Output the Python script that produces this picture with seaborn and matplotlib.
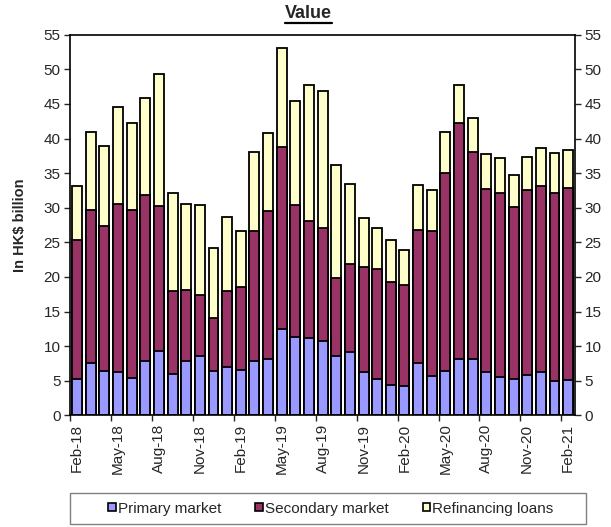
"""
Mortgage loans approved, value by market segment (stacked monthly bars).
"""
import matplotlib
matplotlib.use('Agg')
import matplotlib.pyplot as plt
from matplotlib.lines import Line2D
from matplotlib.patches import Patch, Rectangle
import numpy as np
import pandas as pd
import seaborn as sns

months = list(pd.date_range('2018-02-01', periods=37, freq='MS').strftime('%b-%y'))

primary = [5.2, 7.5, 6.4, 6.2, 5.4, 7.9, 9.3, 6.0, 7.9, 8.5, 6.4, 7.0, 6.6,
           7.8, 8.2, 12.4, 11.3, 11.2, 10.8, 8.6, 9.1, 6.3, 5.2, 4.4, 4.3,
           7.6, 5.7, 6.4, 8.2, 8.1, 6.3, 5.5, 5.2, 5.8, 6.2, 4.9, 5.1]
secondary = [20.1, 22.2, 21.0, 24.4, 24.3, 23.9, 21.0, 11.9, 10.2, 8.9, 7.7,
             11.0, 12.0, 18.9, 21.3, 26.4, 19.1, 16.9, 16.3, 11.3, 12.8, 15.1,
             15.9, 14.8, 14.5, 19.2, 20.9, 28.6, 34.1, 30.0, 26.4, 26.6, 24.9,
             26.7, 26.9, 27.2, 27.7]
refinancing = [7.9, 11.3, 11.5, 14.0, 12.6, 14.0, 19.0, 14.3, 12.5, 13.0, 10.1,
               10.6, 8.0, 11.4, 11.3, 14.3, 15.1, 19.6, 19.8, 16.3, 11.5, 7.1,
               6.0, 6.1, 5.1, 6.5, 5.9, 5.9, 5.4, 4.9, 5.1, 5.1, 4.6, 4.8, 5.5,
               5.8, 5.5]
series_names = ['Primary market', 'Secondary market', 'Refinancing loans']

BLUE   = '#9999FF'
MAROON = '#993366'
CREAM  = '#FFFFCC'

sns.set_style('white')
plt.rcParams['font.family'] = ['Liberation Sans', 'DejaVu Sans']

df = pd.DataFrame({'month': months, 'primary': primary,
                   'secondary': secondary, 'refinancing': refinancing})
df['sec_top'] = df['primary'] + df['secondary']
df['total'] = df['sec_top'] + df['refinancing']

W, H = 611, 527
fig = plt.figure(figsize=(W / 100, H / 100), dpi=100, facecolor='white')
ax = fig.add_axes([0.115, 0.212, 0.826, 0.722])

# overlapping bars drawn tallest first give the stacked look
for col, color in [('total', CREAM), ('sec_top', MAROON), ('primary', BLUE)]:
    sns.barplot(data=df, x='month', y=col, color=color, saturation=1,
                edgecolor='black', linewidth=1.3, width=0.73, ax=ax)

ax.set_ylim(0, 55)
ax.set_xlim(-0.5, len(months) - 0.5)
ax.set_yticks(np.arange(0, 56, 5))
ax.tick_params(axis='y', labelsize=11, length=4, width=1, direction='out',
               left=True, right=True, labelleft=True, labelright=True, pad=3)

ticks = np.arange(0, len(months), 3)
ax.set_xticks(ticks)
ax.set_xticklabels([months[i] for i in ticks], rotation=90, fontsize=11)
ax.tick_params(axis='x', which='major', length=0, pad=6)
ax.set_xticks(np.arange(-0.5, len(months), 3), minor=True)
ax.tick_params(axis='x', which='minor', length=4, width=1, direction='out',
               bottom=True)

ax.set_xlabel('')
ax.set_ylabel('In HK$ billion', fontsize=10.5, fontweight='bold', labelpad=12)
for spine in ax.spines.values():
    spine.set_visible(True)
    spine.set_edgecolor('black')
    spine.set_linewidth(1.2)

title = fig.text(0.505, 0.974, 'Value', ha='center', va='center',
                 fontsize=13, fontweight='bold')
fig.canvas.draw()
bb = title.get_window_extent(fig.canvas.get_renderer())
bb = bb.transformed(fig.transFigure.inverted())
fig.add_artist(Line2D([bb.x0, bb.x1], [bb.y0 - 0.002, bb.y0 - 0.002],
                      color='black', linewidth=1.6, transform=fig.transFigure))

# legend box drawn separately: wide side padding like the spreadsheet legend
fig.add_artist(Rectangle((70 / W, 1 - 524 / H), 516 / W, 31 / H,
                         transform=fig.transFigure, facecolor='white',
                         edgecolor='#808080', linewidth=1.0, zorder=1))
handles = [Patch(facecolor=c, edgecolor='black', linewidth=1.2, label=n)
           for c, n in zip([BLUE, MAROON, CREAM], series_names)]
leg = fig.legend(handles=handles, loc='center', ncol=3,
                 bbox_to_anchor=(331 / W, 1 - 508.5 / H), fontsize=11,
                 frameon=False, handlelength=0.5, handleheight=0.5,
                 handletextpad=0.15, columnspacing=2.2)
leg.set_zorder(2)

fig.savefig('out.png', dpi=100, facecolor='white')
